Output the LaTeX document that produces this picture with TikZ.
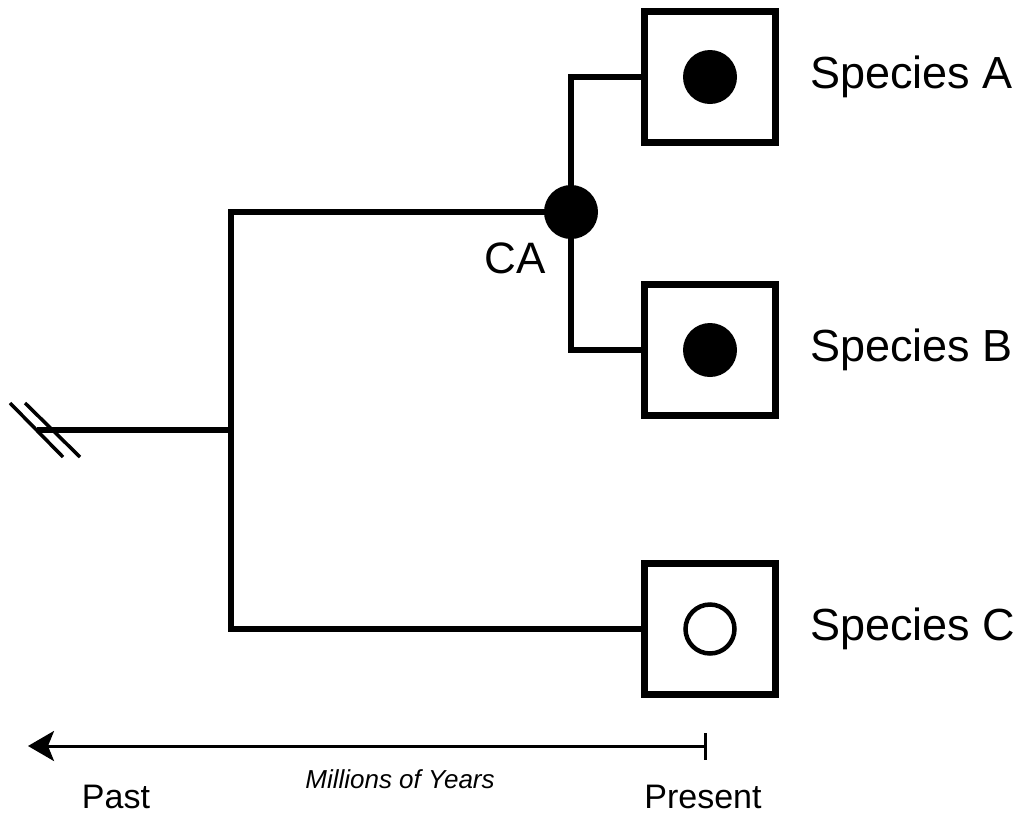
\documentclass[tikz,border=0pt]{standalone}
\usepackage{fontspec}
\setmainfont{Liberation Sans}
\usetikzlibrary{arrows.meta}
\tikzset{
  branch/.style={line width=6pt, line cap=rect, line join=miter},
  spbox/.style={draw, fill=white, line width=6.5pt, minimum size=131pt, inner sep=0pt},
  fulldot/.style={circle, fill=black, minimum size=54pt, inner sep=0pt},
  emptydot/.style={circle, draw=black, line width=4.5pt, minimum size=49pt, inner sep=0pt},
  splabel/.style={anchor=west, font=\fontsize{45}{50}\selectfont, inner sep=0pt},
  hashmark/.style={line width=3.5pt},
  timeline/.style={line width=3pt},
  axislabel/.style={font=\fontsize{34}{38}\selectfont, inner sep=0pt}
}
\begin{document}
\begin{tikzpicture}[x=1pt,y=-1pt]
\useasboundingbox (0,0) rectangle (1022,817);
% junction coordinates
\coordinate (caC) at (571,212);
\coordinate (top) at (231,212);
\coordinate (bot) at (231,629);
\coordinate (root) at (231,430);
\coordinate (rootend) at (40,430);
% species boxes
\node[spbox] (boxA) at (710,77) {};
\node[spbox] (boxB) at (710,350) {};
\node[spbox] (boxC) at (710,629) {};
% branches
\draw[branch] (boxA.west) -| (caC) |- (boxB.west);
\draw[branch] (caC) -- (top) -- (bot) -- (boxC.west);
\draw[branch] (rootend) -- (root);
% character states
\node[fulldot] (dotA) at (boxA.center) {};
\node[fulldot] (dotB) at (boxB.center) {};
\node[emptydot] (dotC) at (boxC.center) {};
\node[splabel] (labA) at (810,77) {Species A};
\node[splabel] (labB) at (810,350) {Species B};
\node[splabel] (labC) at (810,629) {Species C};
% common ancestor
\node[fulldot] (ca) at (caC) {};
\node[font=\fontsize{44}{48}\selectfont, inner sep=0pt] (calab) at (515,258) {CA};
% hash marks
\coordinate (h1a) at (10,403);
\coordinate (h1b) at (63,457);
\coordinate (h2a) at (25,403);
\coordinate (h2b) at (80,457);
\draw[hashmark] (h1a) -- (h1b);
\draw[hashmark] (h2a) -- (h2b);
% time axis
\coordinate (now) at (705,746);
\coordinate (past) at (28,746);
\coordinate (tickT) at (705,733);
\coordinate (tickB) at (705,760);
\draw[timeline, -{Stealth[length=26pt,width=30pt,inset=6pt]}] (now) -- (past);
\draw[timeline] (tickT) -- (tickB);
\node[axislabel] (pastlab) at (116,797) {Past};
\node[axislabel] (presentlab) at (703,797) {Present};
\node[font=\fontsize{26}{30}\selectfont\itshape, inner sep=0pt] (myl) at (400,779) {Millions of Years};
\end{tikzpicture}
\end{document}
